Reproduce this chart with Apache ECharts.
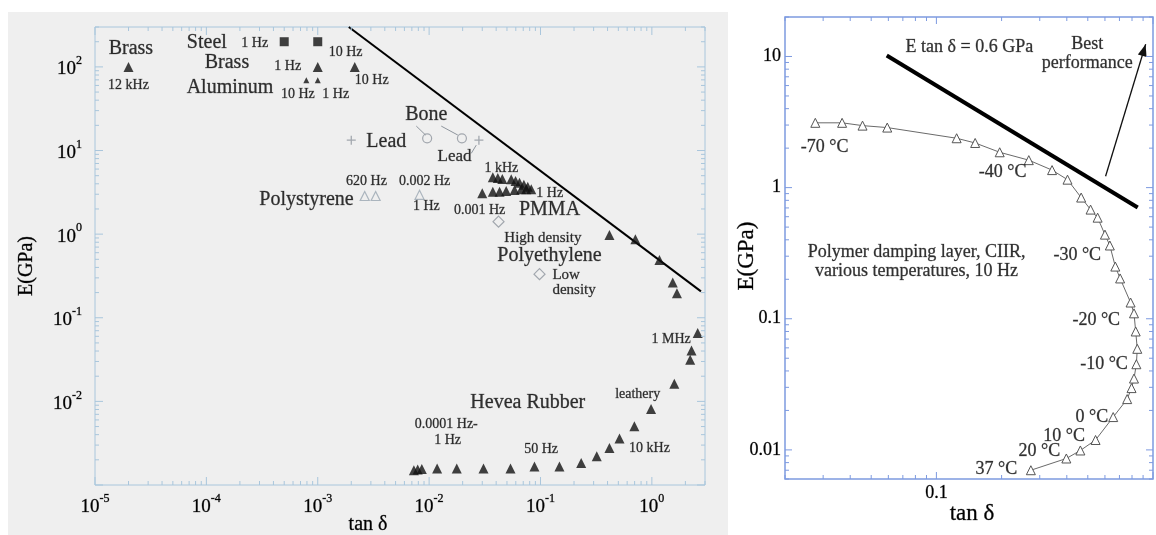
<!DOCTYPE html>
<html>
<head>
<meta charset="utf-8">
<script src="https://cdn.jsdelivr.net/npm/echarts@6/dist/echarts.min.js"></script>
<style>
  html, body { margin: 0; padding: 0; background: #ffffff; }
  #chart { width: 1156px; height: 535px; }
</style>
</head>
<body>
<div id="chart"></div>
<script>
const SERIF = "'Liberation Serif', 'Times New Roman', serif";

// ---------- Left panel: stiffness vs loss tangent of common materials ----------
const leftTanRange = [1e-5, 3];
const leftERange = [1e-3, 300];
const leftXTickLabels = [1e-5, 1e-4, 1e-3, 1e-2, 1e-1, 1];
const leftYTickLabels = [1e-2, 1e-1, 1, 10, 100];

const steel = [[5e-4, 200], [1e-3, 200]];
const brass = [[2e-5, 100], [1e-3, 100], [2.15e-3, 100]];
const aluminum = [[7.9e-4, 69], [1e-3, 69]];
const lead = [[2e-3, 13.3], [0.028, 13.3]];
const bone = [[0.0096, 14], [0.0197, 14]];
const polystyrene = [[2.64e-3, 2.86], [3.31e-3, 2.86], [8.2e-3, 2.95]];
const pmma = [
  [0.0373, 4.78], [0.0414, 4.69], [0.0454, 4.56], [0.0546, 4.52], [0.0597, 4.31],
  [0.0648, 4.12], [0.0709, 3.90], [0.0769, 3.69], [0.0826, 3.44],
  [0.030, 3.08], [0.0373, 3.21], [0.0429, 3.21], [0.0492, 3.28], [0.0585, 3.37],
  [0.0671, 3.44], [0.0744, 3.44]
];
const polyethylene = [[0.042, 1.41], [0.098, 0.332]];
const heveaRubber = [
  [0.0073, 0.0015], [0.0079, 0.00153], [0.0086, 0.00155], [0.0118, 0.00157],
  [0.0177, 0.00157], [0.0308, 0.00157], [0.0538, 0.00157], [0.0883, 0.00167],
  [0.148, 0.00167], [0.232, 0.00183], [0.320, 0.0022], [0.416, 0.00277],
  [0.512, 0.00359], [0.697, 0.00503], [0.984, 0.0081], [1.59, 0.0163],
  [2.21, 0.0315], [2.27, 0.0407], [2.58, 0.0656], [1.68, 0.197], [1.54, 0.264],
  [1.17, 0.492], [0.711, 0.869], [0.416, 0.977]
];
// E * tan(delta) = constant guide line
const leftLimitProduct = 0.57;
const leftLimitTan = [0.0019, 2.76];

// text placed in data coordinates: [text, tan delta, E, font size, align]
const leftNotes = [
  ['Brass', 2.1e-5, 163, 20], ['12 kHz', 2.0e-5, 60, 14],
  ['Steel', 1.01e-4, 192, 20], ['1 Hz', 2.72e-4, 192, 14], ['10 Hz', 1.78e-3, 150, 14],
  ['Brass', 1.53e-4, 111, 20], ['1 Hz', 5.38e-4, 102, 14], ['10 Hz', 3.05e-3, 69, 14],
  ['Aluminum', 1.63e-4, 55.7, 20], ['10 Hz', 6.62e-4, 47.2, 14], ['1 Hz', 1.45e-3, 47.2, 14],
  ['Lead', 4.13e-3, 12.7, 20], ['Bone', 9.44e-3, 26.5, 20], ['Lead', 0.0169, 8.41, 17],
  ['620 Hz', 2.74e-3, 4.24, 14], ['0.002 Hz', 9.12e-3, 4.24, 14],
  ['Polystyrene', 7.93e-4, 2.56, 20], ['1 Hz', 9.44e-3, 2.13, 14],
  ['1 kHz', 0.0445, 6.12, 14], ['1 Hz', 0.121, 3.05, 14], ['0.001 Hz', 0.0284, 1.95, 14],
  ['PMMA', 0.1205, 1.95, 20], ['High density', 0.105, 0.893, 15],
  ['Polyethylene', 0.1205, 0.55, 20], ['Low', 0.128, 0.32, 15, 'left'],
  ['density', 0.128, 0.216, 15, 'left'], ['1 MHz', 1.49, 0.0546, 14],
  ['leathery', 0.746, 0.012, 14], ['Hevea Rubber', 0.0769, 0.00973, 20],
  ['0.0001 Hz-', 0.01426, 0.00527, 14], ['1 Hz', 0.01466, 0.0034, 14],
  ['50 Hz', 0.1014, 0.00265, 14], ['10 kHz', 0.951, 0.00277, 14]
];
// label leader lines: [tan1, E1, tan2, E2]
const leftLeaders = [
  [7.67e-3, 19.6, 9.3e-3, 15.3],
  [0.01285, 19.6, 0.0181, 15.3],
  [0.0239, 9.25, 0.0265, 11.6]
];

// ---------- Right panel: CIIR damping layer over temperature, 10 Hz ----------
const rightTanRange = [0.02, 1];
const rightERange = [0.006, 20];
const rightXTickLabels = [0.1];
const rightYTickLabels = [0.01, 0.1, 1, 10];

const ciirTan = [0.0276, 0.0367, 0.0456, 0.0593, 0.124, 0.151, 0.196, 0.267, 0.342, 0.403,
  0.466, 0.515, 0.555, 0.600, 0.632, 0.670, 0.705, 0.788, 0.817, 0.832, 0.846, 0.838,
  0.817, 0.796, 0.760, 0.655, 0.543, 0.462, 0.398, 0.273];
const ciirE = [3.12, 3.12, 2.97, 2.87, 2.38, 2.19, 1.86, 1.62, 1.36, 1.15,
  0.84, 0.68, 0.59, 0.438, 0.362, 0.25, 0.203, 0.133, 0.110, 0.080, 0.059, 0.045,
  0.035, 0.0296, 0.0244, 0.0178, 0.0119, 0.0099, 0.0086, 0.0070];
const rightLimitProduct = 0.6;
const rightLimitTan = [0.059, 0.85];
const bestArrow = [[0.604, 1.22, 0.925, 12.4]];

const rightNotes = [
  ['E tan \u03b4 = 0.6 GPa', 0.142, 11.8, 18], ['Best\nperformance', 0.497, 10.4, 18],
  ['-70 \u00b0C', 0.0305, 2.04, 18], ['-40 \u00b0C', 0.202, 1.315, 18],
  ['Polymer damping layer, CIIR,\nvarious temperatures, 10 Hz', 0.081, 0.273, 18],
  ['-30 \u00b0C', 0.447, 0.306, 18], ['-20 \u00b0C', 0.547, 0.0977, 18],
  ['-10 \u00b0C', 0.594, 0.0451, 18], ['0 \u00b0C', 0.522, 0.0178, 18],
  ['10 \u00b0C', 0.389, 0.0127, 18], ['20 \u00b0C', 0.299, 0.0098, 18],
  ['37 \u00b0C', 0.189, 0.00714, 18]
];

// ---------- helpers ----------
const LEFT_AXIS = '#a9c6dc';
const RIGHT_AXIS = '#7d9ae0';
const GREY_MARK = '#8e959d';
const INK = '#000000';
// a hairline outline gives the serif glyphs a little more body
const INK_EDGE = { textBorderColor: 'rgba(0,0,0,0.55)', textBorderWidth: 0.5 };

function inList(list, v) {
  return list.some(t => Math.abs(Math.log10(t) - Math.log10(v)) < 1e-6);
}
function powerLabel(v) {
  const e = Math.round(Math.log10(v));
  return '{b|10}{s|' + e + '}';
}
function logTicks(min, max) {
  const out = [];
  for (let e = Math.floor(Math.log10(min)) - 1; e <= Math.ceil(Math.log10(max)); e++) {
    for (let m = 1; m <= 9; m++) {
      const v = m * Math.pow(10, e);
      if (v >= min * 0.9999 && v <= max * 1.0001) out.push({ v: v, major: m === 1 });
    }
  }
  return out;
}
function tickSeries(gi, xr, yr, color, majLen, minLen) {
  const data = [];
  logTicks(xr[0], xr[1]).forEach(t => data.push([t.v, yr[0], t.major ? 1 : 0]));
  logTicks(yr[0], yr[1]).forEach(t => data.push([xr[0], t.v, t.major ? 3 : 2]));
  return {
    type: 'custom', xAxisIndex: gi, yAxisIndex: gi, silent: true, clip: false, z: 5,
    data: data, encode: { x: 0, y: 1 },
    renderItem(params, api) {
      const kind = api.value(2);
      const p = api.coord([api.value(0), api.value(1)]);
      const lo = api.coord([xr[0], yr[0]]);
      const hi = api.coord([xr[1], yr[1]]);
      const len = (kind % 2) ? majLen : minLen;
      const st = { stroke: color, lineWidth: 1 };
      if (kind < 2) {
        return { type: 'group', children: [
          { type: 'line', shape: { x1: p[0], y1: lo[1], x2: p[0], y2: lo[1] - len }, style: st },
          { type: 'line', shape: { x1: p[0], y1: hi[1], x2: p[0], y2: hi[1] + len }, style: st }
        ] };
      }
      return { type: 'group', children: [
        { type: 'line', shape: { x1: lo[0], y1: p[1], x2: lo[0] + len, y2: p[1] }, style: st },
        { type: 'line', shape: { x1: hi[0], y1: p[1], x2: hi[0] - len, y2: p[1] }, style: st }
      ] };
    }
  };
}
function segmentSeries(gi, segs, color, width, arrow) {
  return {
    type: 'custom', xAxisIndex: gi, yAxisIndex: gi, silent: true, z: 4,
    data: segs, encode: { x: [0, 2], y: [1, 3] },
    renderItem(params, api) {
      const a = api.coord([api.value(0), api.value(1)]);
      const b = api.coord([api.value(2), api.value(3)]);
      const kids = [{ type: 'line', shape: { x1: a[0], y1: a[1], x2: b[0], y2: b[1] },
        style: { stroke: color, lineWidth: width } }];
      if (arrow) {
        const ang = Math.atan2(b[1] - a[1], b[0] - a[0]);
        const L = 12, W = 4.5;
        const bx = b[0] - L * Math.cos(ang), by = b[1] - L * Math.sin(ang);
        kids.push({ type: 'polygon', shape: { points: [
          [b[0], b[1]],
          [bx + W * Math.sin(ang), by - W * Math.cos(ang)],
          [bx - W * Math.sin(ang), by + W * Math.cos(ang)]
        ] }, style: { fill: color } });
      }
      return { type: 'group', children: kids };
    }
  };
}
function noteSeries(gi, notes) {
  return {
    type: 'scatter', xAxisIndex: gi, yAxisIndex: gi, silent: true, symbolSize: 0, z: 6,
    data: notes.map(n => ({
      value: [n[1], n[2]], name: n[0],
      label: { fontSize: n[3], lineHeight: n[3] + 1, align: n[4] || 'center' }
    })),
    label: Object.assign({ show: true, position: 'inside', formatter: p => p.name, color: INK, fontFamily: SERIF }, INK_EDGE)
  };
}
function markSeries(gi, data, symbol, size, fill, border) {
  return {
    type: 'scatter', xAxisIndex: gi, yAxisIndex: gi, data: data, symbol: symbol,
    symbolSize: size, z: 3,
    itemStyle: border ? { color: fill, borderColor: border, borderWidth: 1.2 } : { color: fill }
  };
}
function limitLine(gi, product, tans, width) {
  return {
    type: 'line', xAxisIndex: gi, yAxisIndex: gi, showSymbol: false, symbol: 'none', z: 2,
    data: tans.map(t => [t, product / t]),
    lineStyle: { color: '#000', width: width }
  };
}
function titleText(text, x, y, size, rotate) {
  return { type: 'text', x: x, y: y, rotation: rotate ? Math.PI / 2 : 0,
    style: Object.assign({ text: text, font: size + 'px ' + SERIF, fill: INK, textAlign: 'center', textVerticalAlign: 'middle',
      stroke: 'rgba(0,0,0,0.55)', lineWidth: 0.5 }) };
}

const PLUS = 'path://M4,0h1.4v4.3h4.3v1.4h-4.3v4.3h-1.4v-4.3h-4.3v-1.4h4.3z';
const powerRich = {
  b: Object.assign({ fontSize: 19, fontFamily: SERIF, color: INK, verticalAlign: 'bottom', lineHeight: 24 }, INK_EDGE),
  s: Object.assign({ fontSize: 12, fontFamily: SERIF, color: INK, verticalAlign: 'top', lineHeight: 14 }, INK_EDGE)
};

const chart = echarts.init(document.getElementById('chart'), null, { renderer: 'canvas' });
chart.setOption({
  animation: false,
  backgroundColor: '#ffffff',
  textStyle: { fontFamily: SERIF },
  graphic: [
    { type: 'rect', z: -10, shape: { x: 8, y: 12, width: 720, height: 523 }, style: { fill: '#efefef' } },
    titleText('tan \u03b4', 368, 525, 20, false),
    titleText('E(GPa)', 27, 266, 20, true),
    titleText('tan \u03b4', 972, 514, 23, false),
    titleText('E(GPa)', 747, 256, 23, true)
  ],
  grid: [
    { left: 95, top: 27, width: 610, height: 458, show: true, borderColor: LEFT_AXIS, borderWidth: 1, backgroundColor: 'transparent' },
    { left: 785, top: 17, width: 369, height: 462, show: true, borderColor: RIGHT_AXIS, borderWidth: 1.5, backgroundColor: 'transparent' }
  ],
  xAxis: [
    {
      type: 'log', logBase: 10, gridIndex: 0, min: leftTanRange[0], max: leftTanRange[1],
      axisLine: { show: false }, axisTick: { show: false }, splitLine: { show: false }, minorTick: { show: false },
      axisLabel: {
        margin: 8, color: INK, fontFamily: SERIF,
        formatter: v => inList(leftXTickLabels, v) ? powerLabel(v) : '',
        rich: powerRich
      }
    },
    {
      type: 'log', logBase: 10, gridIndex: 1, min: rightTanRange[0], max: rightTanRange[1],
      axisLine: { show: false }, axisTick: { show: false }, splitLine: { show: false },
      axisLabel: Object.assign({
        margin: 5, color: INK, fontFamily: SERIF, fontSize: 18,
        formatter: v => inList(rightXTickLabels, v) ? String(v) : ''
      }, INK_EDGE)
    }
  ],
  yAxis: [
    {
      type: 'log', logBase: 10, gridIndex: 0, min: leftERange[0], max: leftERange[1],
      axisLine: { show: false }, axisTick: { show: false }, splitLine: { show: false },
      axisLabel: {
        margin: 13, color: INK, fontFamily: SERIF,
        formatter: v => inList(leftYTickLabels, v) ? powerLabel(v) : '',
        rich: powerRich
      }
    },
    {
      type: 'log', logBase: 10, gridIndex: 1, min: rightERange[0], max: rightERange[1],
      axisLine: { show: false }, axisTick: { show: false }, splitLine: { show: false },
      axisLabel: Object.assign({
        margin: 4, color: INK, fontFamily: SERIF, fontSize: 18,
        formatter: v => inList(rightYTickLabels, v) ? String(+v.toPrecision(6)) : ''
      }, INK_EDGE)
    }
  ],
  series: [
    tickSeries(0, leftTanRange, leftERange, LEFT_AXIS, 8, 4),
    tickSeries(1, rightTanRange, rightERange, RIGHT_AXIS, 7, 4),

    limitLine(0, leftLimitProduct, leftLimitTan, 2),
    markSeries(0, steel, 'rect', 9, '#111'),
    markSeries(0, brass, 'triangle', 10, '#111'),
    markSeries(0, aluminum, 'triangle', 6, '#111'),
    markSeries(0, lead, PLUS, 9, GREY_MARK),
    markSeries(0, bone, 'circle', 9, 'rgba(0,0,0,0)', GREY_MARK),
    markSeries(0, polystyrene, 'triangle', 9, 'rgba(0,0,0,0)', '#9aa6b2'),
    markSeries(0, pmma, 'triangle', 10, '#111'),
    markSeries(0, polyethylene, 'diamond', 11, 'rgba(0,0,0,0)', GREY_MARK),
    markSeries(0, heveaRubber, 'triangle', 10, '#111'),
    segmentSeries(0, leftLeaders, GREY_MARK, 1, false),
    noteSeries(0, leftNotes),

    limitLine(1, rightLimitProduct, rightLimitTan, 4),
    {
      type: 'line', xAxisIndex: 1, yAxisIndex: 1, z: 3,
      data: ciirTan.map((t, i) => [t, ciirE[i]]),
      symbol: 'triangle', symbolSize: 9, showSymbol: true,
      lineStyle: { color: '#6a6a6a', width: 1 },
      itemStyle: { color: '#ffffff', borderColor: '#555555', borderWidth: 1 }
    },
    segmentSeries(1, bestArrow, '#111', 1.3, true),
    noteSeries(1, rightNotes)
  ]
});
</script>
</body>
</html>
